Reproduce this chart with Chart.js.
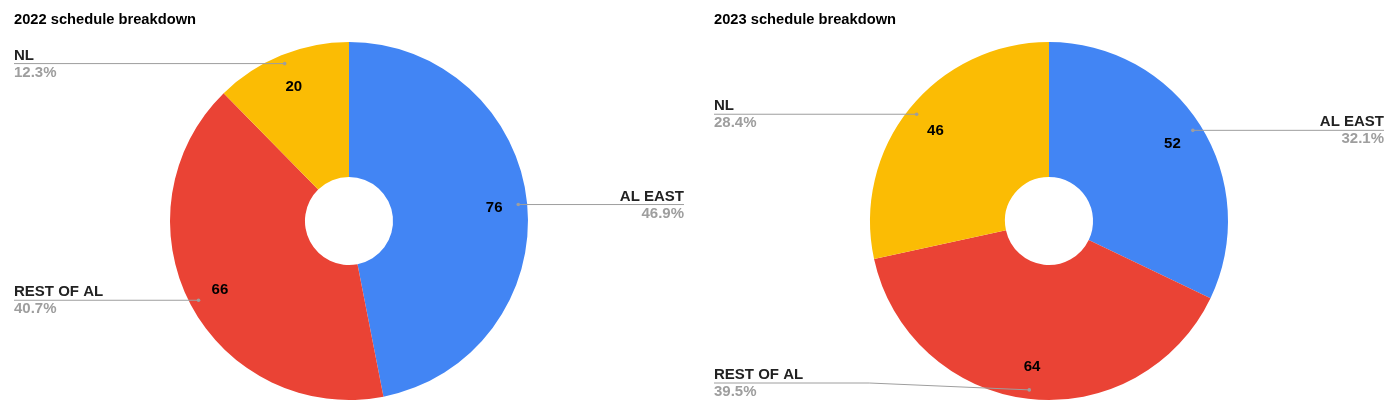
<!DOCTYPE html>
<html>
<head>
<meta charset="utf-8">
<script src="https://cdn.jsdelivr.net/npm/chart.js@4.4.0/dist/chart.umd.min.js"></script>
<style>
  html, body { margin: 0; padding: 0; background: #fff; }
  .row { display: flex; width: 1400px; height: 414px; }
  .panel { width: 700px; height: 414px; position: relative; }
</style>
</head>
<body>
<div class="row">
  <div class="panel"><canvas id="chart2022" width="700" height="414"></canvas></div>
  <div class="panel"><canvas id="chart2023" width="700" height="414"></canvas></div>
</div>
<script>
const categories = ['AL EAST', 'REST OF AL', 'NL'];
const games2022 = [76, 66, 20];
const games2023 = [52, 64, 46];
const sliceColors = ['#4285f4', '#ea4335', '#fbbc04'];

const FONT = '"Liberation Sans", Arial, sans-serif';

// draws the title, the value inside each slice and the side callouts
const calloutPlugin = {
    id: 'callouts',
    afterDraw(chart, args, opts) {
        const ctx = chart.ctx;
        const w = chart.width;
        const h = chart.height;
        const values = chart.data.datasets[0].data;
        const total = values.reduce((a, b) => a + b, 0);

        ctx.save();
        ctx.fillStyle = '#000';
        ctx.font = 'bold 14.7px ' + FONT;
        ctx.textAlign = 'left';
        ctx.textBaseline = 'alphabetic';
        ctx.fillText(opts.title, 14, 24);

        chart.getDatasetMeta(0).data.forEach((arc, i) => {
            const p = arc.getProps(['x', 'y', 'startAngle', 'endAngle', 'outerRadius'], true);
            const mid = (p.startAngle + p.endAngle) / 2;
            const cos = Math.cos(mid), sin = Math.sin(mid);

            // value inside slice
            ctx.fillStyle = '#000';
            ctx.font = 'bold 15px ' + FONT;
            ctx.textAlign = 'center';
            ctx.textBaseline = 'middle';
            ctx.fillText(String(values[i]), p.x + cos * p.outerRadius * 0.815, p.y + sin * p.outerRadius * 0.815 + 1);

            // callout
            const dotX = p.x + cos * p.outerRadius * 0.95;
            const dotY = p.y + sin * p.outerRadius * 0.95;
            const right = cos >= 0;
            const lineY = Math.min(Math.max(dotY, 40), h - 31);
            const edgeX = right ? w - 16 : 14;

            ctx.strokeStyle = '#9e9e9e';
            ctx.lineWidth = 1;
            ctx.beginPath();
            ctx.moveTo(dotX, dotY);
            if (Math.abs(lineY - dotY) > 0.5) {
                ctx.lineTo(dotX + (right ? 160 : -160), lineY);
            }
            ctx.lineTo(edgeX, lineY);
            ctx.stroke();

            ctx.fillStyle = '#9e9e9e';
            ctx.beginPath();
            ctx.arc(dotX, dotY, 1.8, 0, Math.PI * 2);
            ctx.fill();

            ctx.textAlign = right ? 'right' : 'left';
            ctx.textBaseline = 'alphabetic';
            ctx.font = 'bold 15px ' + FONT;
            ctx.fillStyle = '#222';
            ctx.fillText(chart.data.labels[i], edgeX, lineY - 4);
            ctx.fillStyle = '#9e9e9e';
            ctx.fillText((values[i] / total * 100).toFixed(1) + '%', edgeX, lineY + 13);
        });
        ctx.restore();
    }
};

function makeChart(id, title, values) {
    const ctx = document.getElementById(id).getContext('2d');
    return new Chart(ctx, {
        type: 'doughnut',
        data: {
            labels: categories,
            datasets: [{
                data: values,
                backgroundColor: sliceColors,
                borderWidth: 0
            }]
        },
        options: {
            responsive: false,
            animation: false,
            cutout: '24.6%',
            layout: {
                padding: { top: 42, bottom: 14, left: 170, right: 172 }
            },
            plugins: {
                legend: { display: false },
                tooltip: { enabled: false },
                callouts: { title: title }
            }
        },
        plugins: [calloutPlugin]
    });
}

makeChart('chart2022', '2022 schedule breakdown', games2022);
makeChart('chart2023', '2023 schedule breakdown', games2023);
</script>
</body>
</html>
